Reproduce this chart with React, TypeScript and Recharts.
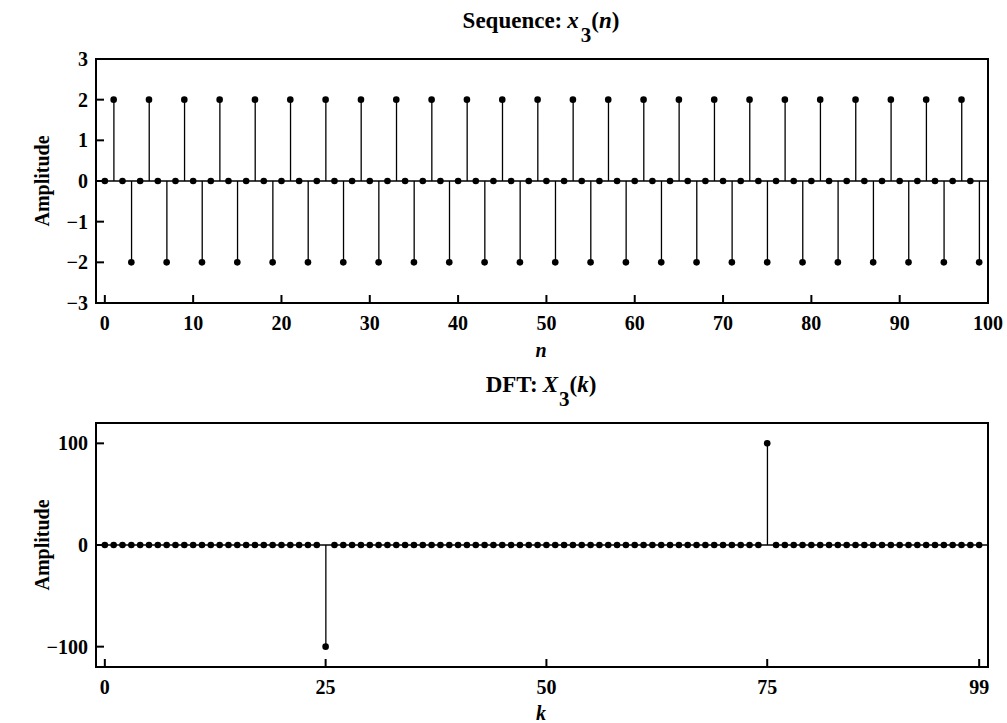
import { ComposedChart, Bar, Scatter, XAxis, YAxis, ReferenceLine } from 'recharts'

const FONT = '"Liberation Serif", "Times New Roman", Times, serif'

// x3(n), n = 0..99
const seqValues = [
  0, 2, 0, -2, 0, 2, 0, -2, 0, 2, 0, -2, 0, 2, 0, -2, 0, 2, 0, -2,
  0, 2, 0, -2, 0, 2, 0, -2, 0, 2, 0, -2, 0, 2, 0, -2, 0, 2, 0, -2,
  0, 2, 0, -2, 0, 2, 0, -2, 0, 2, 0, -2, 0, 2, 0, -2, 0, 2, 0, -2,
  0, 2, 0, -2, 0, 2, 0, -2, 0, 2, 0, -2, 0, 2, 0, -2, 0, 2, 0, -2,
  0, 2, 0, -2, 0, 2, 0, -2, 0, 2, 0, -2, 0, 2, 0, -2, 0, 2, 0, -2,
]

// X3(k), k = 0..99
const dftValues = [
  0, 0, 0, 0, 0, 0, 0, 0, 0, 0, 0, 0, 0, 0, 0, 0, 0, 0, 0, 0,
  0, 0, 0, 0, 0, -100, 0, 0, 0, 0, 0, 0, 0, 0, 0, 0, 0, 0, 0, 0,
  0, 0, 0, 0, 0, 0, 0, 0, 0, 0, 0, 0, 0, 0, 0, 0, 0, 0, 0, 0,
  0, 0, 0, 0, 0, 0, 0, 0, 0, 0, 0, 0, 0, 0, 0, 100, 0, 0, 0, 0,
  0, 0, 0, 0, 0, 0, 0, 0, 0, 0, 0, 0, 0, 0, 0, 0, 0, 0, 0, 0,
]

const nTicks = [0, 10, 20, 30, 40, 50, 60, 70, 80, 90, 100]
const seqTicks = [-3, -2, -1, 0, 1, 2, 3]
const kTicks = [0, 25, 50, 75, 99]
const dftTicks = [-100, 0, 100]

const tickStyle = { fill: '#000', fontSize: 20, fontWeight: 'bold', fontFamily: FONT }
const lineStyle = { stroke: '#000', strokeWidth: 2, strokeLinecap: 'square' as const }
const fmt = (v: number) => (v < 0 ? '\u2212' + Math.abs(v) : String(v))

const Dot = (props: any) => <circle cx={props.cx} cy={props.cy} r={3.3} fill="#000" />

interface PanelProps {
  values: number[]
  xTicks: number[]
  yTicks: number[]
  yDomain: [number, number]
  top: number
  height: number
  plotTop: number
  plotBottom: number
}

function StemPanel({ values, xTicks, yTicks, yDomain, top, height, plotTop, plotBottom }: PanelProps) {
  const data = values.map((v, i) => ({ idx: i, v }))
  return (
    <div style={{ position: 'absolute', left: 0, top }}>
      <ComposedChart
        width={1007}
        height={height}
        data={data}
        margin={{ top: plotTop - 1, right: 18, bottom: 0, left: 0 }}
      >
        <XAxis
          dataKey="idx"
          type="number"
          domain={[-1, 100]}
          ticks={xTicks}
          interval={0}
          height={height - plotBottom}
          tickSize={-7}
          tickMargin={20}
          tick={tickStyle}
          tickFormatter={fmt}
          axisLine={lineStyle}
          tickLine={lineStyle}
        />
        <XAxis
          xAxisId="top"
          orientation="top"
          dataKey="idx"
          type="number"
          domain={[-1, 100]}
          ticks={xTicks}
          interval={0}
          height={1}
          tickSize={-7}
          tick={false}
          axisLine={lineStyle}
          tickLine={lineStyle}
        />
        <YAxis
          type="number"
          domain={yDomain}
          ticks={yTicks}
          interval={0}
          width={96}
          tickSize={-7}
          tickMargin={15}
          tick={tickStyle}
          tickFormatter={fmt}
          axisLine={lineStyle}
          tickLine={lineStyle}
        />
        <YAxis
          yAxisId="right"
          orientation="right"
          type="number"
          domain={yDomain}
          ticks={yTicks}
          interval={0}
          width={1}
          tickSize={-7}
          tick={false}
          axisLine={lineStyle}
          tickLine={lineStyle}
        />
        <ReferenceLine y={0} stroke="#000" strokeWidth={1.3} />
        <Bar dataKey="v" fill="#000" barSize={1.3} isAnimationActive={false} />
        <Scatter dataKey="v" shape={Dot} isAnimationActive={false} />
      </ComposedChart>
    </div>
  )
}

export default function App() {
  const txt = { fontFamily: FONT, fontWeight: 'bold' as const, fill: '#000' }
  return (
    <div style={{ position: 'absolute', left: 0, top: 0, width: 1007, height: 723, background: '#fff' }}>
      <StemPanel
        values={seqValues}
        xTicks={nTicks}
        yTicks={seqTicks}
        yDomain={[-3, 3]}
        top={0}
        height={362}
        plotTop={59}
        plotBottom={303}
      />
      <StemPanel
        values={dftValues}
        xTicks={kTicks}
        yTicks={dftTicks}
        yDomain={[-120, 120]}
        top={362}
        height={361}
        plotTop={61}
        plotBottom={305}
      />
      <svg
        width={1007}
        height={723}
        style={{ position: 'absolute', left: 0, top: 0, pointerEvents: 'none' }}
      >
        <text x={541} y={28} textAnchor="middle" fontSize={23} {...txt}>
          Sequence:<tspan dx={5} fontStyle="italic">x</tspan>
          <tspan dx={2} dy={14} fontSize={21}>3</tspan>
          <tspan dy={-14}>(</tspan>
          <tspan fontStyle="italic">n</tspan>)
        </text>
        <text x={541} y={392} textAnchor="middle" fontSize={23} {...txt}>
          DFT:<tspan dx={5} fontStyle="italic">X</tspan>
          <tspan dx={1} dy={14} fontSize={21}>3</tspan>
          <tspan dy={-14}>(</tspan>
          <tspan fontStyle="italic">k</tspan>)
        </text>
        <text x={541} y={357} textAnchor="middle" fontSize={20} fontStyle="italic" {...txt}>n</text>
        <text x={541} y={720} textAnchor="middle" fontSize={20} fontStyle="italic" {...txt}>k</text>
        <text transform="translate(49,181) rotate(-90)" textAnchor="middle" fontSize={20} {...txt}>Amplitude</text>
        <text transform="translate(49,545) rotate(-90)" textAnchor="middle" fontSize={20} {...txt}>Amplitude</text>
      </svg>
    </div>
  )
}
